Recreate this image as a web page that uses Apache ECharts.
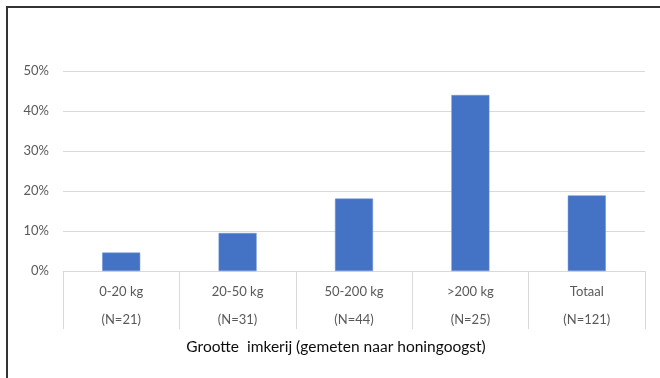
<!DOCTYPE html>
<html>
<head>
<meta charset="utf-8">
<script src="https://cdn.jsdelivr.net/npm/echarts@6/dist/echarts.min.js"></script>
<style>html,body{margin:0;padding:0;background:#fff}#c{width:660px;height:378px}</style>
</head>
<body>
<div id="c"></div>
<script>
const categories = ["0-20 kg", "20-50 kg", "50-200 kg", ">200 kg", "Totaal"];
const sampleSizes = ["(N=21)", "(N=31)", "(N=44)", "(N=25)", "(N=121)"];
const values = [4.6, 9.5, 18.1, 44.0, 18.9];
const axisTitle = "Grootte  imkerij (gemeten naar honingoogst)";
const font = "Lato, 'Open Sans', sans-serif";

const chart = echarts.init(document.getElementById('c'), null, {renderer: 'canvas'});
chart.setOption({
  animation: false,
  backgroundColor: '#fff',
  grid: {left: 63, right: 15, top: 71, bottom: 107, containLabel: false},
  xAxis: {
    type: 'category',
    data: categories.map((c, i) => c + '\n' + sampleSizes[i]),
    axisLine: {show: true, lineStyle: {color: '#D9D9D9', width: 1}},
    axisTick: {show: true, interval: 0, length: 58, lineStyle: {color: '#D9D9D9', width: 1}},
    axisLabel: {interval: 0, color: '#595959', fontSize: 13, fontFamily: font, lineHeight: 28, margin: 7},
    name: axisTitle,
    nameLocation: 'middle',
    nameGap: 66,
    nameTextStyle: {color: '#0d0d0d', fontSize: 15.5, fontFamily: font, padding: [0, 36, 0, 0]}
  },
  yAxis: {
    type: 'value',
    min: 0, max: 50, interval: 10,
    axisLine: {show: false},
    axisTick: {show: false},
    splitLine: {lineStyle: {color: '#D9D9D9', width: 1}},
    axisLabel: {formatter: '{value}%', color: '#595959', fontSize: 13, fontFamily: font, margin: 14}
  },
  series: [{
    type: 'bar',
    data: values,
    barWidth: 38,
    itemStyle: {color: '#4472C4', borderColor: '#6E93D6', borderWidth: 0.5}
  }],
  graphic: [
    {type: 'line', shape: {x1: 6, y1: 7, x2: 660, y2: 7}, style: {stroke: '#333', lineWidth: 2}, silent: true},
    {type: 'line', shape: {x1: 7, y1: 6, x2: 7, y2: 378}, style: {stroke: '#333', lineWidth: 2}, silent: true}
  ]
});
</script>
</body>
</html>
